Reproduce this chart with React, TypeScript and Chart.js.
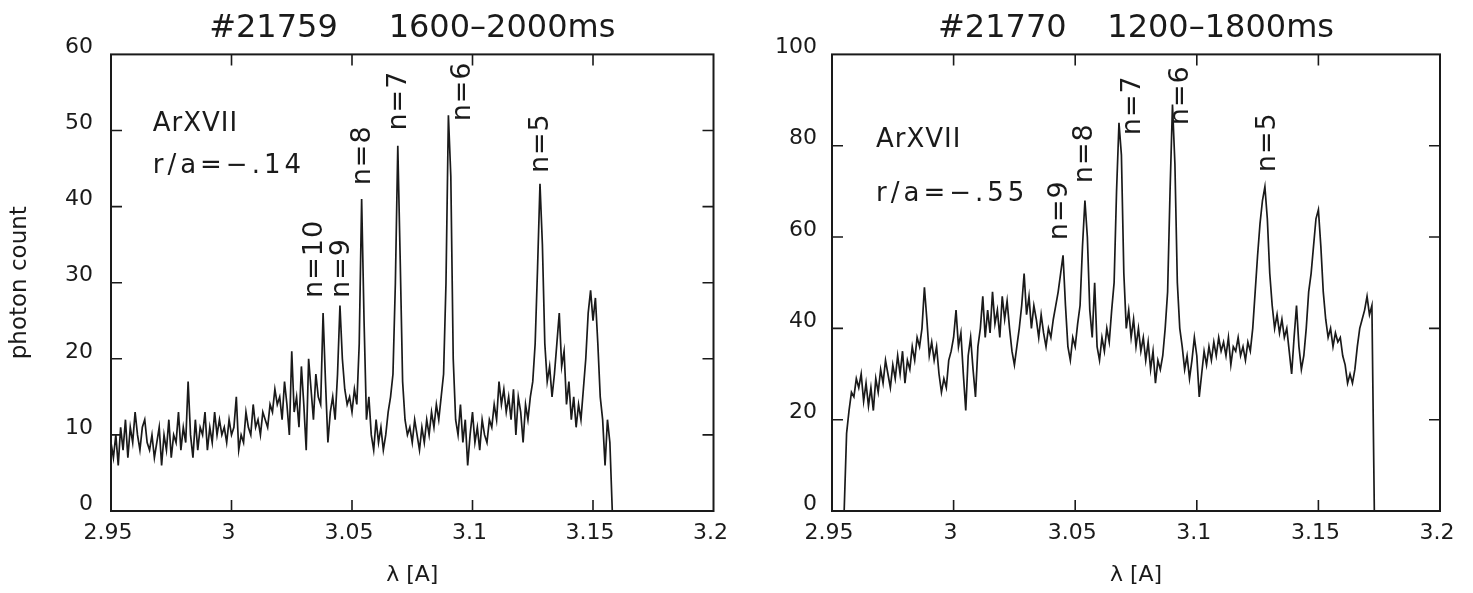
import React, { useEffect, useRef } from "react";
import { Chart, registerables } from "chart.js";

Chart.register(...registerables);

const FONT = '"DejaVu Sans", "Liberation Sans", Arial, sans-serif';
const INK = "#1a1a1a";

// ---- axis ticks ----
const xTickValues = [2.95, 3, 3.05, 3.1, 3.15, 3.2];
const xTickLabels = ["2.95", "3", "3.05", "3.1", "3.15", "3.2"];
const leftYTicks = [0, 10, 20, 30, 40, 50, 60];
const rightYTicks = [0, 20, 40, 60, 80, 100];

// ---- left panel: #21759, samples every 0.001 A from 2.950 ----
const leftStart = 2.95;
const leftStep = 0.001;
const leftCounts = [
  9, 7, 10, 6, 11, 8, 12, 7, 11, 9,
  13, 10, 8, 11, 12, 9, 8, 10, 7, 9,
  11, 6, 10, 8, 12, 7, 10, 9, 13, 8,
  11, 9, 17, 10, 7, 12, 8, 11, 10, 13,
  8, 11, 9, 13, 10, 12, 10, 11, 9, 12,
  10, 11, 15, 8, 10, 9, 13, 11, 10, 14,
  11, 12, 10, 13, 12, 11, 14, 13, 16, 14,
  15, 12, 17, 14, 10, 21, 13, 15, 11, 19,
  14, 8, 20, 16, 12, 18, 15, 14, 26, 17,
  9, 13, 15, 12, 18, 27, 20, 16, 14, 15,
  13, 16, 14, 22, 41, 25, 12, 15, 10, 8,
  12, 9, 11, 8, 10, 13, 15, 18, 30, 48,
  33, 17, 12, 10, 11, 9, 12, 10, 8, 11,
  9, 12, 10, 13, 11, 14, 12, 15, 18, 30,
  52, 44, 20, 12, 10, 14, 9, 12, 6, 10,
  13, 9, 11, 8, 12, 10, 9, 12, 11, 14,
  12, 17, 14, 16, 13, 15, 12, 16, 10, 15,
  13, 9, 14, 12, 15, 17, 22, 32, 43, 35,
  22, 17, 19, 15, 18, 22, 26, 19, 21, 14,
  17, 12, 15, 11, 14, 12, 16, 20, 26, 29,
  25, 28, 22, 15, 12, 6, 12, 9, 0,
];

// ---- right panel: #21770, samples every 0.001 A from 2.955 ----
const rightStart = 2.955;
const rightStep = 0.001;
const rightCounts = [
  0, 17, 22, 26, 25, 29, 27, 30, 24, 28,
  23, 27, 22, 29, 26, 31, 28, 33, 30, 27,
  32, 29, 34, 30, 35, 28, 33, 31, 36, 33,
  38, 36, 40, 49, 42, 34, 37, 33, 36, 30,
  26, 29, 27, 33, 35, 38, 44, 36, 39, 30,
  22, 34, 38, 31, 25, 36, 40, 47, 38, 44,
  39, 48, 41, 44, 38, 47, 42, 46, 40, 35,
  32, 36, 40, 45, 52, 43, 47, 40, 45, 42,
  38, 43, 39, 36, 40, 38, 42, 45, 48, 52,
  56, 45, 36, 33, 38, 36, 41, 45, 58, 68,
  60, 44, 38, 50, 36, 33, 38, 35, 40, 37,
  44, 50, 70, 85, 78, 52, 40, 44, 38, 42,
  36, 40, 35, 38, 33, 37, 31, 35, 28, 33,
  31, 34, 40, 48, 70, 89, 76, 50, 40, 36,
  31, 34, 29, 33, 38, 34, 25, 30, 35, 32,
  36, 33, 37, 34, 38, 35, 37, 34, 38, 32,
  36, 35, 38, 34, 36, 33, 37, 35, 40, 48,
  56, 63, 68, 71, 64, 52, 45, 40, 43, 39,
  42, 38, 40, 35, 30, 38, 45, 36, 31, 34,
  40, 48, 52, 58, 64, 66, 58, 48, 42, 38,
  40, 36, 39, 37, 38, 34, 32, 28, 30, 28,
  31, 36, 40, 42, 44, 47, 43, 45, 0,
];

// ---- titles and annotations ----
const leftTitle = "#21759     1600–2000ms";
const rightTitle = "#21770    1200–1800ms";

const leftNoteTexts = ["ArXVII", "r/a=−.14"];
const leftNoteX = [2.9673, 2.9673];
const leftNoteY = [50.8, 45.3];
const rightNoteTexts = ["ArXVII", "r/a=−.55"];
const rightNoteX = [2.9681, 2.9681];
const rightNoteY = [81.2, 69.4];
const noteSpacing = [1, 4];

const leftLineLabels = ["n=10", "n=9", "n=8", "n=7", "n=6", "n=5"];
const leftLineX = [3.0346, 3.0457, 3.0546, 3.0696, 3.096, 3.1286];
const leftLineY = [28, 28, 42.8, 50.0, 51.2, 44.4];
const rightLineLabels = ["n=9", "n=8", "n=7", "n=6", "n=5"];
const rightLineX = [3.0438, 3.054, 3.0738, 3.0935, 3.1293];
const rightLineY = [59.3, 71.8, 82.3, 84.5, 74.2];

const frameAndNotes = {
  id: "frameAndNotes",
  afterDatasetsDraw(chart: any, _args: any, opts: any) {
    const { ctx, chartArea: a, scales } = chart;
    const xs = scales.x;
    const ys = scales.y;
    ctx.save();
    ctx.strokeStyle = INK;
    ctx.lineWidth = 1.6;
    const L = 11;
    ctx.beginPath();
    for (const t of xs.ticks) {
      if (t.value <= xs.min || t.value >= xs.max) continue;
      const p = xs.getPixelForValue(t.value);
      ctx.moveTo(p, a.bottom);
      ctx.lineTo(p, a.bottom - L);
      ctx.moveTo(p, a.top);
      ctx.lineTo(p, a.top + L);
    }
    for (const t of ys.ticks) {
      if (t.value <= ys.min || t.value >= ys.max) continue;
      const p = ys.getPixelForValue(t.value);
      ctx.moveTo(a.left, p);
      ctx.lineTo(a.left + L, p);
      ctx.moveTo(a.right, p);
      ctx.lineTo(a.right - L, p);
    }
    ctx.stroke();
    ctx.lineWidth = 2;
    ctx.strokeRect(a.left, a.top, a.right - a.left, a.bottom - a.top);

    ctx.fillStyle = INK;
    ctx.textBaseline = "middle";
    ctx.textAlign = "left";
    ctx.font = `26px ${FONT}`;
    opts.noteTexts.forEach((txt: string, i: number) => {
      (ctx as any).letterSpacing = `${noteSpacing[i]}px`;
      ctx.fillText(txt, xs.getPixelForValue(opts.noteX[i]), ys.getPixelForValue(opts.noteY[i]));
    });
    ctx.font = `27px ${FONT}`;
    (ctx as any).letterSpacing = "1px";
    opts.lineLabels.forEach((txt: string, i: number) => {
      ctx.save();
      ctx.translate(xs.getPixelForValue(opts.lineX[i]), ys.getPixelForValue(opts.lineY[i]));
      ctx.rotate(-Math.PI / 2);
      ctx.fillText(txt, 0, 0);
      ctx.restore();
    });
    ctx.restore();
  },
};

type PanelCfg = {
  start: number;
  step: number;
  counts: number[];
  title: string;
  yTicks: number[];
  yMax: number;
  yWidth: number;
  yPad: number;
  padRight: number;
  yTitle: string;
  noteTexts: string[];
  noteX: number[];
  noteY: number[];
  lineLabels: string[];
  lineX: number[];
  lineY: number[];
};

function makeConfig(p: PanelCfg): any {
  const points = p.counts.map((c, i) => ({ x: p.start + i * p.step, y: c }));
  const tickFont = { family: FONT, size: 22 };
  return {
    type: "line",
    data: {
      datasets: [
        {
          data: points,
          borderColor: INK,
          borderWidth: 1.7,
          pointRadius: 0,
          tension: 0,
          fill: false,
        },
      ],
    },
    options: {
      animation: false,
      responsive: false,
      maintainAspectRatio: false,
      devicePixelRatio: 1,
      layout: { padding: { top: 9, right: p.padRight, left: 0, bottom: 0 } },
      plugins: {
        legend: { display: false },
        tooltip: { enabled: false },
        title: {
          display: true,
          text: p.title,
          fullSize: false,
          color: INK,
          font: { family: FONT, size: 32, weight: "normal", lineHeight: 1.2 },
          padding: { top: 0, bottom: 7 },
        },
        frameAndNotes: {
          noteTexts: p.noteTexts,
          noteX: p.noteX,
          noteY: p.noteY,
          lineLabels: p.lineLabels,
          lineX: p.lineX,
          lineY: p.lineY,
        },
      },
      scales: {
        x: {
          type: "linear",
          position: "bottom",
          min: 2.95,
          max: 3.2,
          border: { display: false },
          grid: { display: false, drawTicks: false },
          afterBuildTicks: (s: any) => {
            s.ticks = xTickValues.map((v) => ({ value: v }));
          },
          afterFit: (s: any) => {
            s.height = 82;
          },
          ticks: {
            color: INK,
            font: tickFont,
            padding: 9,
            labelOffset: -3,
            maxRotation: 0,
            autoSkip: false,
            callback: (v: number) => {
              const i = xTickValues.indexOf(v);
              return i >= 0 ? xTickLabels[i] : "";
            },
          },
          title: {
            display: true,
            text: "λ [A]",
            color: INK,
            font: { family: FONT, size: 22, lineHeight: 1.2 },
            padding: 5,
          },
        },
        y: {
          type: "linear",
          position: "left",
          min: 0,
          max: p.yMax,
          border: { display: false },
          grid: { display: false, drawTicks: false },
          afterBuildTicks: (s: any) => {
            s.ticks = p.yTicks.map((v) => ({ value: v }));
          },
          afterFit: (s: any) => {
            s.width = p.yWidth;
          },
          ticks: {
            color: INK,
            font: tickFont,
            padding: p.yPad,
            labelOffset: -7,
            autoSkip: false,
            callback: (v: number) => String(v),
          },
          title: {
            display: p.yTitle !== "",
            text: p.yTitle,
            color: INK,
            font: { family: FONT, size: 23, lineHeight: 1.2 },
            padding: { top: 6, bottom: 0 },
          },
        },
      },
    },
    plugins: [frameAndNotes],
  };
}

function Panel({ cfg, left, width }: { cfg: PanelCfg; left: number; width: number }) {
  const ref = useRef<HTMLCanvasElement>(null);
  useEffect(() => {
    const chart = new Chart(ref.current as HTMLCanvasElement, makeConfig(cfg));
    return () => chart.destroy();
  }, []);
  return (
    <canvas
      ref={ref}
      width={width}
      height={593}
      style={{ position: "absolute", left, top: 0, width, height: 593 }}
    />
  );
}

const leftCfg: PanelCfg = {
  start: leftStart,
  step: leftStep,
  counts: leftCounts,
  title: leftTitle,
  yTicks: leftYTicks,
  yMax: 60,
  yWidth: 111,
  yPad: 18,
  padRight: 23,
  yTitle: "photon count",
  noteTexts: leftNoteTexts,
  noteX: leftNoteX,
  noteY: leftNoteY,
  lineLabels: leftLineLabels,
  lineX: leftLineX,
  lineY: leftLineY,
};

const rightCfg: PanelCfg = {
  start: rightStart,
  step: rightStep,
  counts: rightCounts,
  title: rightTitle,
  yTicks: rightYTicks,
  yMax: 100,
  yWidth: 92,
  yPad: 15,
  padRight: 33,
  yTitle: "",
  noteTexts: rightNoteTexts,
  noteX: rightNoteX,
  noteY: rightNoteY,
  lineLabels: rightLineLabels,
  lineX: rightLineX,
  lineY: rightLineY,
};

export default function App() {
  return (
    <div
      style={{
        position: "absolute",
        left: 0,
        top: 0,
        width: 1473,
        height: 593,
        background: "#ffffff",
        overflow: "hidden",
      }}
    >
      <Panel cfg={leftCfg} left={0} width={740} />
      <Panel cfg={rightCfg} left={740} width={733} />
    </div>
  );
}
